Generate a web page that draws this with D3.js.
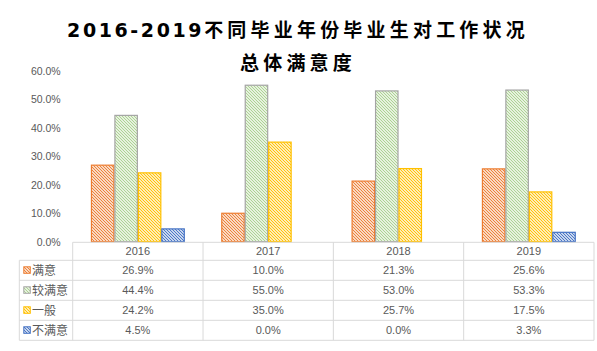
<!DOCTYPE html>
<html><head><meta charset="utf-8">
<script src="https://cdn.jsdelivr.net/npm/d3@7"></script>
<style>
html,body{margin:0;padding:0;background:#fff;}
svg{display:block;}
text{font-family:"Liberation Sans","DejaVu Sans",sans-serif;}
</style></head>
<body><svg id="c" width="597" height="351"></svg>
<script>
const titleLines = ["2016-2019不同毕业年份毕业生对工作状况", "总体满意度"];
const years = ["2016", "2017", "2018", "2019"];
const seriesNames = ["满意", "较满意", "一般", "不满意"];
const satisfied = [26.9, 10.0, 21.3, 25.6];
const fairlySatisfied = [44.4, 55.0, 53.0, 53.3];
const average = [24.2, 35.0, 25.7, 17.5];
const unsatisfied = [4.5, 0.0, 0.0, 3.3];
const yTicks = [0, 10, 20, 30, 40, 50, 60];
const strokeColors = ["#ED7D31", "#A5A5A5", "#FFC000", "#4472C4"];
const hatchColors = ["#ED7D31", "#A9D18E", "#FFC000", "#4472C4"];

const seriesValues = [satisfied, fairlySatisfied, average, unsatisfied];
const svg = d3.select("#c");
const defs = svg.append("defs");
hatchColors.forEach((c, i) => {
  const p = defs.append("pattern").attr("id", "h" + i)
    .attr("patternUnits", "userSpaceOnUse").attr("width", 3).attr("height", 3);
  p.append("rect").attr("width", 3).attr("height", 3).attr("fill", "#fff");
  p.append("path").attr("d", "M-1,-1L4,4M-1,2L1,4M2,-1L4,1")
    .attr("stroke", c).attr("stroke-width", 1.1).attr("fill", "none");
});

// title: split digits and CJK so font/spacing can differ
const t = svg.selectAll("text.title").data(titleLines).join("text")
  .attr("class", "title")
  .attr("x", 298).attr("y", (d, i) => 37 + i * 33)
  .attr("text-anchor", "middle")
  .style("font-family", '"Noto Sans CJK SC", sans-serif')
  .style("font-weight", "bold").style("font-size", "19px")
  .attr("fill", "#000");
t.each(function(d) {
  const parts = d.match(/[0-9\-]+|[^0-9\-]+/g);
  d3.select(this).selectAll("tspan").data(parts).join("tspan")
    .style("font-family", p => /[0-9]/.test(p) ? '"DejaVu Sans", sans-serif' : '"Noto Sans CJK SC", sans-serif')
    .style("letter-spacing", p => /[0-9]/.test(p) ? "2.6px" : "4.2px")
    .text(p => p);
});

const left = 72.7, right = 594;
const x = d3.scaleBand().domain(years).range([left, right]).padding(0);
const xs = d3.scaleBand().domain(d3.range(4))
  .range([x.bandwidth() * 0.14, x.bandwidth() * 0.86]).padding(0);
const y = d3.scaleLinear().domain([0, 60]).range([241.7, 71]);

// y axis
const ya = svg.append("g").attr("transform", `translate(${left - 4},0)`)
  .call(d3.axisLeft(y).tickValues(yTicks).tickSize(0).tickPadding(8)
  .tickFormat(d => d.toFixed(1) + "%"));
ya.select(".domain").remove();
ya.selectAll("text").attr("fill", "#595959").style("font-size", "10.5px")
  .style("font-family", '"Liberation Sans", sans-serif');

// bars
seriesValues.forEach((vals, si) => {
  svg.append("g").selectAll("rect").data(vals).join("rect")
    .attr("x", (d, i) => x(years[i]) + xs(si) + 0.5)
    .attr("width", xs.bandwidth() - 1)
    .attr("y", d => y(d))
    .attr("height", d => Math.max(0, y(0) - y(d)))
    .attr("fill", `url(#h${si})`)
    .attr("stroke", strokeColors[si]).attr("stroke-width", d => d > 0 ? 1.2 : 0);
});

// data table
const grid = "#D9D9D9";
const headerTop = 242.3, headerBot = 260.3, rowH = 20;
const tableLeft = 19.3;
const g = svg.append("g");
const hLines = [headerTop].concat(d3.range(5).map(i => headerBot + i * rowH));
hLines.forEach((yy, i) => {
  g.append("line").attr("x1", i === 0 ? left : tableLeft).attr("x2", right)
    .attr("y1", yy).attr("y2", yy).attr("stroke", grid).attr("stroke-width", 1);
});
const bottom = headerBot + 4 * rowH;
g.append("line").attr("x1", tableLeft).attr("x2", tableLeft)
  .attr("y1", headerBot).attr("y2", bottom).attr("stroke", grid);
years.concat(["end"]).forEach((yr, i) => {
  const xx = yr === "end" ? right : x(yr);
  g.append("line").attr("x1", xx).attr("x2", xx)
    .attr("y1", headerTop).attr("y2", bottom).attr("stroke", grid);
});
g.selectAll("text.yr").data(years).join("text").attr("class", "yr")
  .attr("x", d => x(d) + x.bandwidth() / 2).attr("y", headerTop + 13)
  .attr("text-anchor", "middle").attr("fill", "#595959")
  .style("font-size", "11px").text(d => d);
seriesValues.forEach((vals, si) => {
  const ry = headerBot + si * rowH;
  g.selectAll("text.v" + si).data(vals).join("text").attr("class", "v" + si)
    .attr("x", (d, i) => x(years[i]) + x.bandwidth() / 2).attr("y", ry + 14)
    .attr("text-anchor", "middle").attr("fill", "#595959")
    .style("font-size", "11px").text(d => d.toFixed(1) + "%");
  g.append("rect").attr("x", 23.8).attr("y", ry + 6.5).attr("width", 6.5).attr("height", 6.5)
    .attr("fill", `url(#h${si})`).attr("stroke", strokeColors[si]).attr("stroke-width", 1);
  g.append("text").attr("x", 32).attr("y", ry + 14.5).attr("fill", "#595959")
    .style("font-family", '"Noto Sans CJK SC", sans-serif')
    .style("font-size", "12px").text(seriesNames[si]);
});
</script></body></html>
